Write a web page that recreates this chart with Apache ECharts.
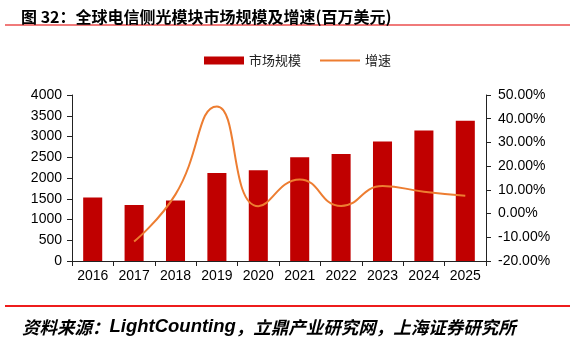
<!DOCTYPE html>
<html>
<head>
<meta charset="utf-8">
<script src="https://cdn.jsdelivr.net/npm/echarts@6/dist/echarts.min.js"></script>
<style>
  html, body { margin: 0; padding: 0; background: #fff; }
  #chart { width: 575px; height: 340px; }
</style>
</head>
<body>
<div id="chart"></div>
<script>
// Global telecom-side optical module market, USD millions, and YoY growth (%)
const years = ['2016', '2017', '2018', '2019', '2020', '2021', '2022', '2023', '2024', '2025'];
const marketSize = [1530, 1350, 1460, 2120, 2185, 2500, 2580, 2880, 3145, 3380];
const growth = [null, -11.8, 8.1, 45.2, 3.1, 14.4, 3.2, 11.6, 9.2, 7.5];
const leftTicks = { min: 0, max: 4000, interval: 500 };
const rightTicks = { min: -20, max: 50, interval: 10 };

const latin = '"Liberation Sans", Arial, "Noto Sans CJK SC", sans-serif';
const cjk = '"Noto Sans CJK SC", "Liberation Sans", sans-serif';

const chart = echarts.init(document.getElementById('chart'), null, { renderer: 'canvas' });

chart.setOption({
  animation: false,
  backgroundColor: '#fff',
  title: [
    {
      text: '图 32：全球电信侧光模块市场规模及增速(百万美元)',
      left: 16, top: 4,
      textStyle: { fontFamily: cjk, fontSize: 16, fontWeight: 'bold', color: '#000' }
    },
    {
      text: '资料来源：{b|LightCounting}，立鼎产业研究网，上海证券研究所',
      left: 17, top: 313,
      textStyle: {
        fontFamily: cjk, fontSize: 17.5, fontStyle: 'italic', color: '#000',
        rich: { b: { fontFamily: latin, fontSize: 18.5, fontWeight: 'bold', fontStyle: 'italic', color: '#000' } }
      }
    }
  ],
  graphic: [
    { type: 'rect', shape: { x: 5, y: 24, width: 565, height: 2 }, style: { fill: '#f07a7a' } },
    { type: 'rect', shape: { x: 5, y: 305, width: 565, height: 2 }, style: { fill: '#ee1c1c' } }
  ],
  legend: {
    left: 199, top: 49,
    itemWidth: 40, itemHeight: 8, itemGap: 19,
    symbolKeepAspect: true,
    textStyle: { fontFamily: cjk, fontSize: 13, color: '#222' },
    data: [
      { name: '市场规模', icon: 'rect' },
      { name: '增速', icon: 'path://M0,0H40V2H0Z' }
    ]
  },
  grid: { left: 72, right: 89, top: 95, bottom: 79 },
  xAxis: {
    type: 'category',
    data: years,
    axisLine: { lineStyle: { color: '#222', width: 1 } },
    axisTick: { show: true, length: 5, alignWithLabel: false, lineStyle: { color: '#222' } },
    axisLabel: { fontFamily: latin, fontSize: 14, color: '#000', margin: 8 }
  },
  yAxis: [
    {
      type: 'value', position: 'left',
      min: leftTicks.min, max: leftTicks.max, interval: leftTicks.interval,
      axisLine: { show: true, lineStyle: { color: '#222' } },
      axisTick: { show: true, length: 5, lineStyle: { color: '#222' } },
      splitLine: { show: false },
      axisLabel: {
        fontFamily: latin, fontSize: 14, color: '#000', margin: 10,
        formatter: v => String(v)
      }
    },
    {
      type: 'value', position: 'right',
      min: rightTicks.min, max: rightTicks.max, interval: rightTicks.interval,
      axisLine: { show: true, lineStyle: { color: '#222' } },
      axisTick: { show: true, length: 5, lineStyle: { color: '#222' } },
      splitLine: { show: false },
      axisLabel: {
        fontFamily: latin, fontSize: 14, color: '#000', margin: 12,
        formatter: v => v.toFixed(2) + '%'
      }
    }
  ],
  series: [
    {
      name: '市场规模', type: 'bar', yAxisIndex: 0,
      data: marketSize, barWidth: '46%',
      itemStyle: { color: '#c00000' }
    },
    {
      name: '增速', type: 'line', yAxisIndex: 1,
      data: growth, smooth: 0.5, symbol: 'none',
      lineStyle: { color: '#ed7d31', width: 2 },
      itemStyle: { color: '#ed7d31' }
    }
  ]
});
</script>
</body>
</html>
